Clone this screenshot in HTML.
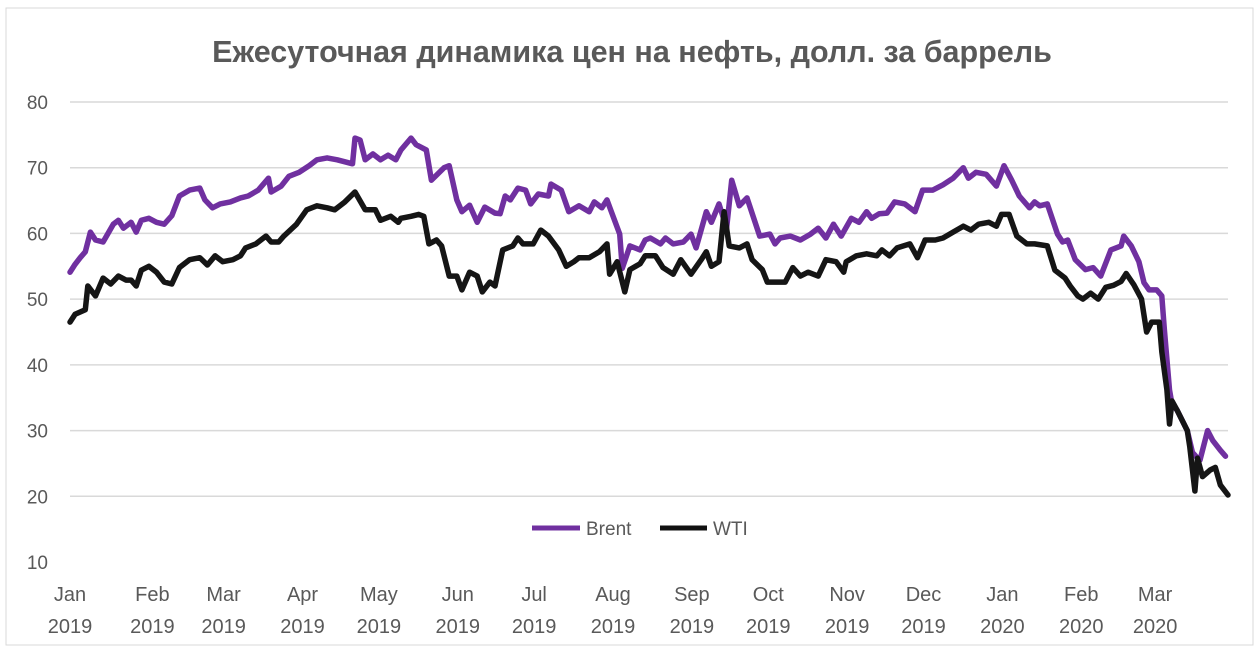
<!DOCTYPE html>
<html><head><meta charset="utf-8"><style>
body{margin:0;background:#fff;}
svg{display:block;font-family:"Liberation Sans",sans-serif;}
</style></head><body>
<svg id="chart" width="1259" height="650">
<rect x="6" y="8" width="1247" height="637" fill="#fff" stroke="#d9d9d9"/>
<text x="632" y="62" text-anchor="middle" font-size="30.5" font-weight="bold" fill="#595959">Ежесуточная динамика цен на нефть, долл. за баррель</text>
<g id="grid"></g><g id="ylab"></g><g id="xlab"></g><g id="series"></g>
<g>
<line x1="532" y1="528" x2="580" y2="528" stroke="#7030A0" stroke-width="5"/>
<text x="586" y="535" font-size="19" fill="#595959">Brent</text>
<line x1="660" y1="528" x2="707" y2="528" stroke="#111" stroke-width="5"/>
<text x="713" y="535" font-size="19" fill="#595959">WTI</text>
</g>
</svg>
<script>
const yTicks=[10,20,30,40,50,60,70,80];
const monthLabels=["Jan","Feb","Mar","Apr","May","Jun","Jul","Aug","Sep","Oct","Nov","Dec","Jan","Feb","Mar"];
const yearLabels=["2019","2019","2019","2019","2019","2019","2019","2019","2019","2019","2019","2019","2020","2020","2020"];
const monthDays=[0,30,58,89,119,150,180,211,242,272,303,333,364,395,424];
const brentDays=[0,2,4,6,8,10,13,17,19,21,24,26,28,31,34,37,40,43,47,51,53,56,59,63,67,70,74,78,79,83,86,90,94,97,101,105,108,111,112,114,116,119,122,125,128,130,134,136,140,142,147,149,152,154,157,160,163,167,169,171,173,176,179,181,184,188,189,193,196,200,204,206,209,211,213,216,217,220,224,226,228,232,234,237,241,244,246,250,252,255,258,260,263,266,271,275,277,279,283,287,291,294,297,300,303,307,310,313,315,318,321,324,328,332,335,339,343,347,351,353,356,360,364,367,370,373,377,379,381,384,388,390,392,395,399,402,405,409,413,414,417,420,422,424,427,429,430,432,433,435,439,441,443,444,447,449,452,454];
const brentVals=[54.1,55.3,56.3,57.2,60.2,59,58.7,61.4,62,60.8,61.7,60.2,62,62.3,61.7,61.4,62.7,65.7,66.6,66.9,65.1,63.9,64.5,64.8,65.4,65.7,66.6,68.4,66.3,67.2,68.7,69.3,70.3,71.2,71.5,71.2,70.9,70.6,74.5,74.2,71.2,72.1,71.2,71.9,71.2,72.7,74.5,73.5,72.7,68.1,70,70.3,65.1,63.3,64.3,61.7,64,63.1,63,65.7,65.1,66.9,66.6,64.5,66,65.7,67.5,66.6,63.3,64.2,63.3,64.8,63.9,65.1,63,59.9,54.7,58.1,57.5,59,59.3,58.4,59.3,58.4,58.7,59.9,57.8,63.3,61.7,64.5,60.8,68.1,64.2,65.4,59.6,59.9,58.4,59.3,59.6,59,59.9,60.8,59.3,61.4,59.6,62.3,61.7,63.3,62.3,63,63.1,64.8,64.5,63.3,66.6,66.6,67.4,68.4,70,68.4,69.3,69,67.2,70.3,68.1,65.7,63.9,64.8,64.2,64.5,59.9,58.7,59,56,54.5,54.8,53.5,57.5,58.1,59.6,58.1,55.7,52.5,51.4,51.4,50.5,45.3,36.2,34,33.1,30,26.7,25.8,25.5,30,28.5,27,26.1];
const wtiDays=[0,2,6,7,10,13,16,19,22,24,26,28,31,34,37,40,43,47,51,54,57,60,64,67,69,73,77,79,82,84,89,93,97,101,104,108,112,116,120,122,126,129,130,134,137,139,141,144,146,149,152,154,157,160,162,165,167,170,174,176,178,182,185,188,192,195,198,200,204,208,211,212,215,218,220,224,226,230,233,237,240,244,248,250,252,255,257,259,263,266,268,272,274,278,281,284,287,290,294,297,301,304,305,309,313,317,319,322,325,330,333,336,340,343,347,351,354,357,361,364,366,369,372,376,379,384,387,391,393,396,398,401,404,407,410,413,415,418,421,423,425,428,429,431,432,433,435,439,440,442,443,445,448,450,452,455];
const wtiVals=[46.5,47.7,48.4,52,50.5,53.2,52.3,53.5,52.9,52.9,52,54.4,55,54.1,52.6,52.3,54.8,56,56.3,55.2,56.6,55.7,56,56.6,57.8,58.4,59.6,58.7,58.7,59.6,61.4,63.6,64.2,63.9,63.6,64.8,66.3,63.6,63.6,62,62.6,61.7,62.3,62.6,62.9,62.6,58.4,59,58.1,53.5,53.5,51.4,54.1,53.5,51.1,52.6,52,57.5,58.1,59.3,58.4,58.4,60.5,59.6,57.5,55,55.7,56.3,56.3,57.2,58.4,53.8,55.7,51.1,54.5,55.4,56.6,56.6,54.8,53.8,56,53.8,56,57.2,55,55.7,63.3,58.1,57.8,58.4,56,54.5,52.6,52.6,52.6,54.8,53.5,54.1,53.5,56,55.7,54.1,55.7,56.6,56.9,56.6,57.5,56.6,57.8,58.4,56.3,59,59,59.3,60.2,61.1,60.5,61.4,61.7,61.1,62.9,62.9,59.6,58.4,58.4,58.1,54.4,53.2,52,50.5,50,50.9,50,51.8,52.1,52.7,53.9,52.2,50,45,46.5,46.5,42,36.2,31,34.5,33.1,30,27.5,20.8,25.8,23,24,24.4,21.7,20.2];

const X0=70,X1=1228,D1=455,Y0=562,Y1=102,V0=10,V1=80;
const xs=d=>X0+(X1-X0)*d/D1;
const ys=v=>Y0-(Y0-Y1)*(v-V0)/(V1-V0);
const NS="http://www.w3.org/2000/svg";
function mk(tag,attrs,parent,txt){const e=document.createElementNS(NS,tag);for(const k in attrs)e.setAttribute(k,attrs[k]);if(txt!==undefined)e.textContent=txt;parent.appendChild(e);return e;}
const grid=document.getElementById('grid'),ylab=document.getElementById('ylab'),xlab=document.getElementById('xlab'),ser=document.getElementById('series');
yTicks.forEach(v=>{
  if(v>V0){const l=mk('line',{x1:X0,x2:X1,y1:ys(v),y2:ys(v),stroke:'#d9d9d9','stroke-width':1.5},grid);
  
  }
  const t=mk('text',{x:48,y:ys(v)+7,'text-anchor':'end','font-size':19,fill:'#595959'},ylab,String(v));
  
  
});
monthLabels.forEach((m,i)=>{
  const cx=xs(monthDays[i])+(i==0?0:6);
  const t=mk('text',{x:cx,y:601,'text-anchor':'middle','font-size':20,fill:'#595959'},xlab,m);
  
  
  const t2=mk('text',{x:cx,y:633,'text-anchor':'middle','font-size':20,fill:'#595959'},xlab,yearLabels[i]);
  
  
});
function line(days,vals,color,name){
  const d=days.map((dd,i)=>(i?'L':'M')+xs(dd).toFixed(1)+','+ys(vals[i]).toFixed(1)).join('');
  const p=mk('path',{d:d,fill:'none',stroke:color,'stroke-width':5.5,'stroke-linejoin':'round','stroke-linecap':'round'},ser);
  
  
}
line(brentDays,brentVals,'#7030A0','brent-line');
line(wtiDays,wtiVals,'#151515','wti-line');
</script>
</body></html>
